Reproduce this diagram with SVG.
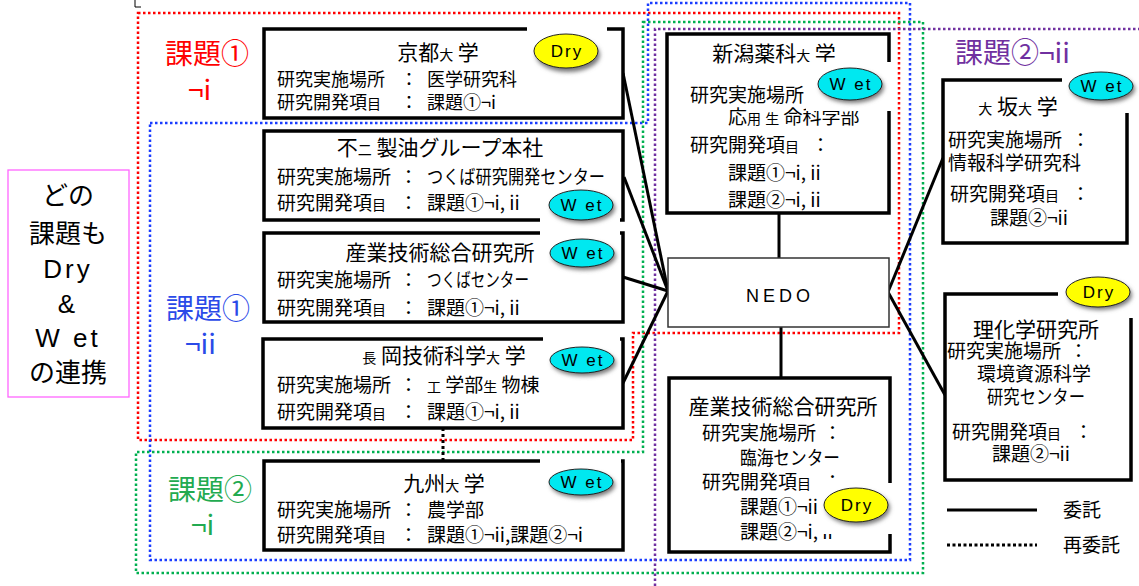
<svg xmlns="http://www.w3.org/2000/svg" width="1139" height="586" viewBox="0 0 1139 586">
<style>
.t{font-family:"Noto Sans CJK JP","Noto Sans CJK SC",sans-serif;font-size:19px;fill:#000}
.h{font-size:21px}
.s{font-size:14px}
.k{font-size:18px}
.lbl{font-family:"Noto Sans CJK JP","Noto Sans CJK SC",sans-serif;font-size:28px}
.pk{font-family:"Noto Sans CJK JP","Noto Sans CJK SC",sans-serif;font-size:26px;fill:#000;text-anchor:middle}
.lat{font-family:"Liberation Sans","DejaVu Sans",sans-serif;font-size:26px;letter-spacing:3px}
.box{fill:#fff;stroke:#000;stroke-width:3.5}
.wr{fill:#fff;stroke:none}
.ell{stroke:#222;stroke-width:1}
.wet{fill:#00e8f0}
.dry{fill:#ffff00}
.et{font-family:"Liberation Sans","DejaVu Sans",sans-serif;font-size:17px;fill:#000;text-anchor:middle;letter-spacing:2px}
.reg{fill:none;stroke-width:2.5;stroke-dasharray:2.5 2.5}
.con{stroke:#000;stroke-width:3;fill:none}
</style>
<defs>
<filter id="sh" x="-30%" y="-30%" width="160%" height="180%"><feGaussianBlur stdDeviation="2"/></filter>
</defs>

<g id="regions">
<path class="reg" stroke="#ff0000" d="M138,13 H899 V333 H633 V440 H138 Z"/>
<path class="reg" stroke="#1a3cff" d="M150,123 H648 V3 H910 V560 H150 Z"/>
<path class="reg" stroke="#00b050" d="M643,22 H923 V573 H136 V452 H643 Z"/>
<path class="reg" stroke="#7030a0" d="M655,586 V29 H1139"/>
<path d="M135,0 V7 H141" fill="none" stroke="#000" stroke-width="1"/>
</g>

<g id="note">
<rect x="8" y="170" width="121" height="227" fill="#fff" stroke="#ff66ff" stroke-width="1.3"/>
<text class="pk" x="68" y="205">どの</text>
<text class="pk" x="68" y="243">課題も</text>
<text class="pk lat" x="68" y="278">Dry</text>
<text class="pk lat" x="68" y="313">&amp;</text>
<text class="pk lat" x="68" y="347">W et</text>
<text class="pk" x="68" y="382">の連携</text>
</g>

<g id="labels">
<text class="lbl" fill="#ff0000" x="165" y="64">課題①</text>
<text class="lbl" fill="#ff0000" x="188" y="100">¬i</text>
<text class="lbl" fill="#2a4ae8" x="166" y="319">課題①</text>
<text class="lbl" fill="#2a4ae8" x="185" y="354">¬ii</text>
<text class="lbl" fill="#22aa50" x="168" y="500">課題②</text>
<text class="lbl" fill="#22aa50" x="191" y="535">¬i</text>
<text class="lbl" fill="#7030a0" x="955" y="63">課題②¬ii</text>
</g>

<g id="connectors">
<line class="con" x1="623" y1="73" x2="668" y2="291"/>
<line class="con" x1="624" y1="177" x2="668" y2="291"/>
<line class="con" x1="623" y1="277" x2="668" y2="291"/>
<line class="con" x1="623" y1="383" x2="668" y2="291"/>
<line class="con" x1="779" y1="213" x2="779" y2="258"/>
<line class="con" x1="781" y1="327" x2="781" y2="377"/>
<line class="con" x1="888" y1="292" x2="943" y2="158"/>
<line class="con" x1="888" y1="292" x2="945" y2="395"/>
<line class="con" x1="443" y1="428" x2="443" y2="460" stroke-dasharray="3 3"/>
</g>

<g id="kyoto">
<rect class="box" x="264" y="29" width="359" height="89"/>
<rect class="wr" x="527" y="24" width="80" height="45"/>
<ellipse cx="568" cy="55" rx="32" ry="17" fill="#777" filter="url(#sh)"/>
<ellipse class="ell dry" cx="566" cy="51" rx="32" ry="17"/>
<text class="et" x="567" y="57">Dry</text>
<text class="t h" x="438" y="60" text-anchor="middle">京都<tspan class="s">大</tspan> 学</text>
<text class="t k" x="277" y="86">研究実施場所</text><text class="t k" x="400" y="86">：</text><text class="t k" x="427" y="86">医学研究科</text>
<text class="t k" x="277" y="109">研究開発項<tspan class="s">目</tspan></text><text class="t k" x="400" y="109">：</text><text class="t k" x="427" y="109">課題①¬i</text>
</g>

<g id="fuji">
<rect class="box" x="264" y="131" width="359" height="89"/>
<rect class="wr" x="540" y="186" width="80" height="38"/>
<ellipse cx="583" cy="208" rx="32" ry="15" fill="#777" filter="url(#sh)"/>
<ellipse class="ell wet" cx="581" cy="205" rx="32" ry="15"/>
<text class="et" x="582" y="211">W et</text>
<text class="t h" x="440" y="155" text-anchor="middle">不<tspan class="s">二</tspan> 製油グループ本社</text>
<text class="t" x="277" y="184">研究実施場所</text><text class="t" x="399" y="184">：</text><text class="t" x="427" y="184" textLength="178" lengthAdjust="spacingAndGlyphs">つくば研究開発センター</text>
<text class="t" x="277" y="210">研究開発項<tspan class="s">目</tspan></text><text class="t" x="399" y="210">：</text><text class="t" x="427" y="210">課題①¬i, ii</text>
</g>

<g id="aist-tsukuba">
<rect class="box" x="264" y="233" width="359" height="89"/>
<rect class="wr" x="540" y="228" width="80" height="42"/>
<ellipse cx="584" cy="256" rx="32" ry="14" fill="#777" filter="url(#sh)"/>
<ellipse class="ell wet" cx="582" cy="253" rx="32" ry="14"/>
<text class="et" x="583" y="259">W et</text>
<text class="t h" x="440" y="260" text-anchor="middle">産業技術総合研究所</text>
<text class="t" x="277" y="287">研究実施場所</text><text class="t" x="399" y="287">：</text><text class="t" x="427" y="287" textLength="102" lengthAdjust="spacingAndGlyphs">つくばセンター</text>
<text class="t" x="277" y="315">研究開発項<tspan class="s">目</tspan></text><text class="t" x="399" y="315">：</text><text class="t" x="427" y="315">課題①¬i, ii</text>
</g>

<g id="nagaoka">
<rect class="box" x="263" y="339" width="360" height="89"/>
<rect class="wr" x="543" y="334" width="77" height="40"/>
<ellipse cx="584" cy="363" rx="32" ry="13" fill="#777" filter="url(#sh)"/>
<ellipse class="ell wet" cx="582" cy="360" rx="32" ry="13"/>
<text class="et" x="583" y="366">W et</text>
<text class="t h" x="444" y="363" text-anchor="middle"><tspan class="s">長</tspan> 岡技術科学<tspan class="s">大</tspan> 学</text>
<text class="t" x="277" y="392">研究実施場所</text><text class="t" x="399" y="392">：</text><text class="t" x="427" y="392"><tspan class="s">工</tspan> 学部<tspan class="s">生</tspan> 物棟</text>
<text class="t" x="277" y="419">研究開発項<tspan class="s">目</tspan></text><text class="t" x="399" y="419">：</text><text class="t" x="427" y="419">課題①¬i, ii</text>
</g>

<g id="kyushu">
<rect class="box" x="264" y="461" width="359" height="89"/>
<rect class="wr" x="540" y="456" width="81" height="42"/>
<ellipse cx="583" cy="485" rx="32" ry="13" fill="#777" filter="url(#sh)"/>
<ellipse class="ell wet" cx="581" cy="482" rx="32" ry="13"/>
<text class="et" x="582" y="488">W et</text>
<text class="t h" x="444" y="491" text-anchor="middle">九州<tspan class="s">大</tspan> 学</text>
<text class="t" x="277" y="517">研究実施場所</text><text class="t" x="399" y="517">：</text><text class="t" x="427" y="517">農学部</text>
<text class="t" x="277" y="542">研究開発項<tspan class="s">目</tspan></text><text class="t" x="399" y="542">：</text><text class="t" x="427" y="542">課題①¬ii,課題②¬i</text>
</g>

<g id="niigata">
<rect class="box" x="667" y="34" width="222" height="179"/>
<text class="t h" x="774" y="61" text-anchor="middle">新潟薬科<tspan class="s">大</tspan> 学</text>
<text class="t" x="690" y="102">研究実施場所</text>
<text class="t" x="728" y="124">応<tspan class="s">用</tspan> <tspan class="s">生</tspan> 命科学部</text>
<rect class="wr" x="806" y="62" width="88" height="49"/>
<ellipse cx="852" cy="87" rx="32" ry="16" fill="#777" filter="url(#sh)"/>
<ellipse class="ell wet" cx="850" cy="84" rx="32" ry="16"/>
<text class="et" x="851" y="90">W et</text>
<text class="t" x="690" y="152">研究開発項<tspan class="s">目</tspan></text><text class="t" x="811" y="152">：</text>
<text class="t" x="728" y="180">課題①¬i, ii</text>
<text class="t" x="728" y="207">課題②¬i, ii</text>
</g>

<g id="nedo">
<rect x="668" y="258" width="221" height="69" fill="#fff" stroke="#333" stroke-width="1.5"/>
<text x="780" y="302" text-anchor="middle" font-family="Liberation Sans, DejaVu Sans, sans-serif" font-size="18" letter-spacing="4">NEDO</text>
</g>

<g id="aist-rinkai">
<rect class="box" x="669" y="378" width="221" height="174"/>
<text class="t h" x="783" y="414" text-anchor="middle">産業技術総合研究所</text>
<text class="t" x="702" y="440">研究実施場所</text><text class="t" x="823" y="440">：</text>
<text class="t" x="740" y="465" textLength="100" lengthAdjust="spacingAndGlyphs">臨海センター</text>
<text class="t" x="702" y="489">研究開発項<tspan class="s">目</tspan></text><text class="t" x="823" y="489">：</text>
<text class="t" x="740" y="514">課題①¬ii</text>
<text class="t" x="740" y="539">課題②¬i, ii</text>
<rect class="wr" x="820" y="483" width="75" height="51"/>
<ellipse cx="858" cy="508" rx="32" ry="17" fill="#777" filter="url(#sh)"/>
<ellipse class="ell dry" cx="856" cy="505" rx="32" ry="17"/>
<text class="et" x="857" y="511">Dry</text>
</g>

<g id="osaka">
<rect class="box" x="943" y="80" width="184" height="163"/>
<rect class="wr" x="1062" y="70" width="72" height="43"/>
<ellipse cx="1103" cy="89" rx="32" ry="14" fill="#777" filter="url(#sh)"/>
<ellipse class="ell wet" cx="1101" cy="86" rx="32" ry="14"/>
<text class="et" x="1102" y="92">W et</text>
<text class="t h" x="1018" y="114" text-anchor="middle"><tspan class="s">大</tspan> 坂<tspan class="s">大</tspan> 学</text>
<text class="t" x="948" y="147">研究実施場所</text><text class="t" x="1071" y="147">：</text>
<text class="t" x="948" y="170">情報科学研究科</text>
<text class="t" x="950" y="201">研究開発項<tspan class="s">目</tspan></text><text class="t" x="1071" y="201">：</text>
<text class="t" x="990" y="225">課題②¬ii</text>
</g>

<g id="riken">
<rect class="box" x="945" y="294" width="186" height="186"/>
<rect class="wr" x="1058" y="280" width="78" height="38"/>
<ellipse cx="1100" cy="295" rx="32" ry="15" fill="#777" filter="url(#sh)"/>
<ellipse class="ell dry" cx="1098" cy="292" rx="32" ry="15"/>
<text class="et" x="1099" y="298">Dry</text>
<text class="t h" x="1036" y="337" text-anchor="middle">理化学研究所</text>
<text class="t" x="947" y="358">研究実施場所</text><text class="t" x="1069" y="358">：</text>
<text class="t" x="977" y="381">環境資源科学</text>
<text class="t" x="987" y="404" textLength="98" lengthAdjust="spacingAndGlyphs">研究センター</text>
<text class="t" x="952" y="439">研究開発項<tspan class="s">目</tspan></text><text class="t" x="1074" y="439">：</text>
<text class="t" x="992" y="461">課題②¬ii</text>
</g>

<g id="legend">
<line class="con" x1="947" y1="510" x2="1037" y2="510"/>
<text class="t" x="1063" y="517" font-size="16">委託</text>
<line class="con" x1="947" y1="545" x2="1037" y2="545" stroke-dasharray="3 2.5"/>
<text class="t" x="1063" y="552" font-size="16">再委託</text>
</g>
</svg>
